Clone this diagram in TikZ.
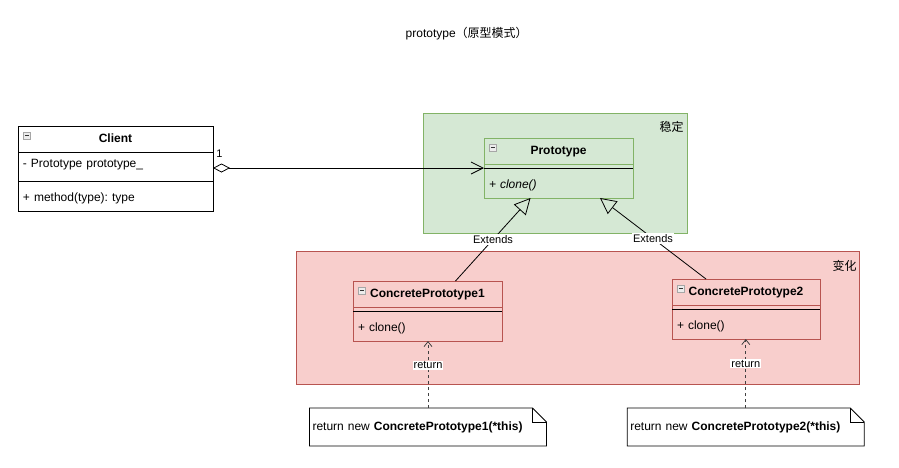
\documentclass[tikz,border=0pt]{standalone}
\usepackage{fontspec}
\setmainfont{Liberation Sans}
\newfontfamily\cjk{Noto Sans CJK SC}
\usetikzlibrary{arrows.meta}
\frenchspacing
\definecolor{stablefill}{HTML}{D5E8D4}
\definecolor{stableline}{HTML}{82B366}
\definecolor{changefill}{HTML}{F8CECC}
\definecolor{changeline}{HTML}{B85450}
\tikzset{
  region/.style={draw, anchor=north west, inner sep=0pt, outer sep=0pt},
  classbox/.style={anchor=north west, inner xsep=5pt, inner ysep=0pt, outer sep=0pt, minimum height=26pt, text height=9pt, text depth=3pt, font=\fontsize{12}{14}\selectfont},
  classhead/.style={classbox, draw, align=center, font=\fontsize{12}{14}\selectfont\bfseries},
  classrow/.style={classbox, align=left},
  classsep/.style={anchor=north west, inner sep=0pt, outer sep=0pt, minimum height=8pt},
  edgelabel/.style={fill=white, inner sep=1pt, font=\fontsize{11}{12}\selectfont},
  notebox/.style={anchor=north west, inner xsep=3pt, inner ysep=0pt, outer sep=0pt, minimum height=38pt, align=left, font=\fontsize{12}{14}\selectfont},
  extends/.style={-{Triangle[open,length=16pt,width=16pt]}},
  returns/.style={-{Straight Barb[length=5pt,width=8pt]}, draw=black!75, dash pattern=on 3pt off 3pt},
}
% small collapse sign in the corner of a class
\newcommand{\minusicon}[1]{%
  \draw[line width=0.6pt, gray!70, fill=gray!15] ([shift={(5.5,6.5)}]#1.north west) rectangle ++(6.5,6.5);
  \draw[line width=0.9pt, black!80] ([shift={(6.8,9.75)}]#1.north west) -- ++(3.9,0);
}
% note outline with folded corner
\newcommand{\notefold}[1]{%
  \draw (#1.north west) -- ([xshift=-14pt]#1.north east) -- ([yshift=-14pt]#1.north east) -- (#1.south east) -- (#1.south west) -- cycle;
  \draw ([xshift=-14pt]#1.north east) -- ([xshift=-14pt,yshift=-14pt]#1.north east) -- ([yshift=-14pt]#1.north east);
}
\begin{document}
\begin{tikzpicture}[x=1pt, y=-1pt, line width=0.8pt]
  \useasboundingbox (0,0) rectangle (899,467);
  \node[font=\fontsize{12}{14}\selectfont] (title) at (466.7,34) {prototype{\cjk （原型模式）}};

  % regions
  \node[region, fill=stablefill, draw=stableline, minimum width=264pt, minimum height=120pt] (stable) at (423,113) {};
  \node[anchor=east, inner sep=0pt, font=\cjk\fontsize{12}{14}\selectfont] (stablelabel) at (684,126.5) {稳定};
  \node[region, fill=changefill, draw=changeline, minimum width=563pt, minimum height=133pt] (change) at (296,251) {};
  \node[anchor=east, inner sep=0pt, font=\cjk\fontsize{12}{14}\selectfont] (changelabel) at (857,266) {变化};

  % Client
  \node[classhead, text width=185pt] (clienthead) at (18,126) {Client};
  \node[classrow, text width=185pt, minimum height=25pt] (clientattr) at (clienthead.south west) {- Prototype prototype\_};
  \node[classsep, minimum width=195pt] (clientsep) at (clientattr.south west) {};
  \node[classrow, text width=185pt] (clientmethod) at (clientsep.south west) {+ method(type): type};
  \draw (clienthead.north west) rectangle (clientmethod.south east);
  \draw (clientsep.west) -- (clientsep.east);
  \minusicon{clienthead}

  % Prototype
  \node[classhead, draw=stableline, text width=139pt] (protohead) at (484,138) {Prototype};
  \node[classsep, minimum width=149pt] (protosep) at (protohead.south west) {};
  \node[classrow, text width=139pt] (protomethod) at (protosep.south west) {\itshape + clone()};
  \draw[stableline] (protohead.north west) rectangle (protomethod.south east);
  \draw (protosep.west) -- (protosep.east);
  \minusicon{protohead}

  % ConcretePrototype1
  \node[classhead, draw=changeline, text width=139pt] (cp1head) at (353,281) {ConcretePrototype1};
  \node[classsep, minimum width=149pt] (cp1sep) at (cp1head.south west) {};
  \node[classrow, text width=139pt] (cp1method) at (cp1sep.south west) {+ clone()};
  \draw[changeline] (cp1head.north west) rectangle (cp1method.south east);
  \draw (cp1sep.west) -- (cp1sep.east);
  \minusicon{cp1head}

  % ConcretePrototype2
  \node[classhead, draw=changeline, text width=138pt] (cp2head) at (672,279) {ConcretePrototype2};
  \node[classsep, minimum width=148pt] (cp2sep) at (cp2head.south west) {};
  \node[classrow, text width=138pt] (cp2method) at (cp2sep.south west) {+ clone()};
  \draw[changeline] (cp2head.north west) rectangle (cp2method.south east);
  \draw (cp2sep.west) -- (cp2sep.east);
  \minusicon{cp2head}

  % notes
  \node[notebox, text width=231pt] (note1) at (309.5,408) {return new \textbf{ConcretePrototype1(*this)}};
  \notefold{note1}
  \node[notebox, text width=231pt] (note2) at (627.3,408) {return new \textbf{ConcretePrototype2(*this)}};
  \notefold{note2}

  % connectors
  \draw[{Diamond[open,length=17pt,width=9pt]}-{Straight Barb[length=12pt,width=12pt]}] (clientattr.east |- protosep.west) -- (protosep.west)
    node[pos=0, anchor=south west, inner sep=1pt, xshift=2pt, yshift=9pt, font=\fontsize{11}{12}\selectfont] (mult) {1};
  \draw[extends] ([xshift=28pt]cp1head.north) -- ([xshift=-28pt]protomethod.south) node[midway, edgelabel] (ext1) {Extends};
  \draw[extends] ([xshift=-40pt]cp2head.north) -- ([xshift=41.5pt]protomethod.south) node[midway, edgelabel] (ext2) {Extends};
  \draw[returns] (note1.north) -- (note1.north |- cp1method.south) node[pos=0.64, edgelabel] (ret1) {return};
  \draw[returns] (note2.north) -- (note2.north |- cp2method.south) node[pos=0.64, edgelabel] (ret2) {return};
\end{tikzpicture}
\end{document}
